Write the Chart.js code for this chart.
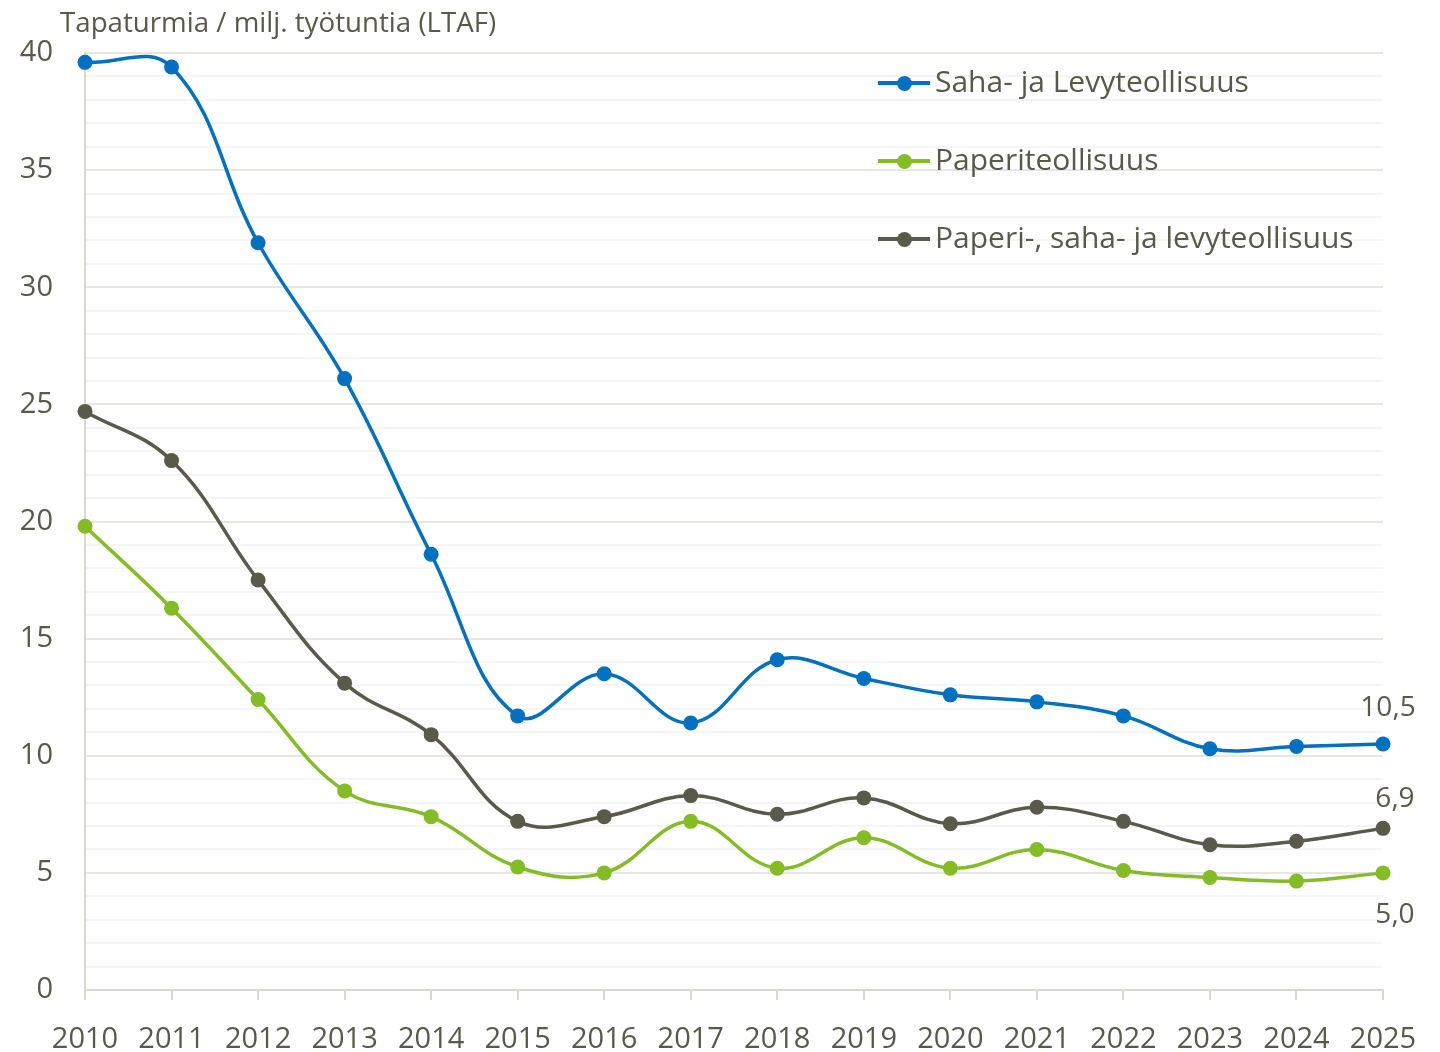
<!DOCTYPE html>
<html>
<head>
<meta charset="utf-8">
<script src="https://cdn.jsdelivr.net/npm/chart.js@4"></script>
<style>
  html, body { margin: 0; padding: 0; background: #fff; }
  #wrap { position: relative; width: 1440px; height: 1052px; font-family: "Open Sans", "Noto Sans", sans-serif; color: #595949; }
  #title { position: absolute; left: 60px; top: 1px; font-size: 27.7px; line-height: 40px; white-space: nowrap; }
  .leg { position: absolute; left: 878px; font-size: 30px; line-height: 40px; height: 40px; }
  .leg span.mk { position: absolute; left: 0; top: 19px; width: 52px; height: 3.5px; }
  .leg span.mk::after { content: ""; position: absolute; left: 19px; top: -5.5px; width: 15px; height: 15px; border-radius: 50%; background: inherit; }
  .leg span.tx { position: absolute; left: 57px; top: -1px; white-space: nowrap; }
</style>
</head>
<body>
<div id="wrap">
  <canvas id="chart" width="1440" height="1052"></canvas>
  <div id="title">Tapaturmia / milj. työtuntia (LTAF)</div>
  <div id="legend"></div>
</div>
<script>
// Vuodet
const years = ["2010","2011","2012","2013","2014","2015","2016","2017","2018","2019","2020","2021","2022","2023","2024","2025"];

// Sarjat (luettu kuvasta)
const sahaLevy = [39.6, 39.4, 31.9, 26.1, 18.6, 11.7, 13.5, 11.4, 14.1, 13.3, 12.6, 12.3, 11.7, 10.3, 10.4, 10.5];
const paperi = [19.8, 16.3, 12.4, 8.5, 7.4, 5.25, 5.0, 7.2, 5.2, 6.5, 5.2, 6.0, 5.1, 4.8, 4.65, 5.0];
const kaikki = [24.7, 22.6, 17.5, 13.1, 10.9, 7.2, 7.4, 8.3, 7.5, 8.2, 7.1, 7.8, 7.2, 6.2, 6.35, 6.9];

const seriesNames = ["Saha- ja Levyteollisuus", "Paperiteollisuus", "Paperi-, saha- ja levyteollisuus"];
const seriesColors = ["#0070c0", "#84bc26", "#5a5a4a"];
const endLabels = ["10,5", "5,0", "6,9"];

const textColor = "#595949";
const fontFam = '"Open Sans", "Noto Sans", sans-serif';

// Legenda HTML:nä
const legendEl = document.getElementById("legend");
seriesNames.forEach((name, i) => {
    const d = document.createElement("div");
    d.className = "leg";
    d.style.top = (62 + i * 78) + "px";
    d.innerHTML = '<span class="mk" style="background:' + seriesColors[i] + '"></span><span class="tx">' + name + '</span>';
    legendEl.appendChild(d);
});

// Viimeisen pisteen arvot
const endLabelPlugin = {
    id: "endLabels",
    afterDatasetsDraw(chart) {
        const ctx = chart.ctx;
        ctx.save();
        ctx.font = "28px " + fontFam;
        ctx.fillStyle = textColor;
        ctx.textAlign = "center";
        ctx.textBaseline = "middle";
        chart.data.datasets.forEach((ds, i) => {
            const meta = chart.getDatasetMeta(i);
            const pt = meta.data[meta.data.length - 1];
            // paperi alle, muut yläpuolelle
            const dy = i === 1 ? 42 : (i === 0 ? -36 : -29);
            const dx = i === 0 ? 5 : 12;
            ctx.fillText(endLabels[i], pt.x + dx, pt.y + dy);
        });
        ctx.restore();
    }
};

const mkDataset = (label, data, color) => ({
    label: label,
    data: data,
    borderColor: color,
    backgroundColor: color,
    borderWidth: 3.5,
    pointRadius: 7.5,
    pointHoverRadius: 7.5,
    pointBorderWidth: 0,
    tension: 0.4,
    capBezierPoints: false,
    clip: false
});

const chart = new Chart(document.getElementById("chart"), {
    type: "line",
    data: {
        labels: years,
        datasets: [
            mkDataset(seriesNames[0], sahaLevy, seriesColors[0]),
            mkDataset(seriesNames[1], paperi, seriesColors[1]),
            mkDataset(seriesNames[2], kaikki, seriesColors[2])
        ]
    },
    options: {
        responsive: false,
        animation: false,
        layout: { padding: { top: 53, right: 57, left: 0, bottom: 0 } },
        plugins: { legend: { display: false }, tooltip: { enabled: false } },
        scales: {
            x: {
                offset: false,
                grid: { drawOnChartArea: false, color: "#d9d9d0", lineWidth: 2, tickLength: 10 },
                border: { color: "#d9d9d0", width: 2 },
                ticks: { color: textColor, font: { size: 29, family: fontFam }, padding: 22, maxRotation: 0, autoSkip: false },
                afterFit: (s) => { s.height = 62; }
            },
            y: {
                min: 0,
                max: 40,
                grid: {
                    drawTicks: false,
                    lineWidth: 2,
                    color: (c) => (c.tick && c.tick.value % 5 === 0) ? "#e6e6e2" : "#f5f5f4"
                },
                border: { color: "#d9d9d0", width: 2 },
                ticks: {
                    stepSize: 1,
                    autoSkip: false,
                    color: textColor,
                    padding: 32,
                    font: { size: 29, family: fontFam },
                    callback: (v) => v % 5 === 0 ? v : ""
                },
                afterFit: (s) => { s.width = 85; }
            }
        }
    },
    plugins: [endLabelPlugin]
});
</script>
</body>
</html>
